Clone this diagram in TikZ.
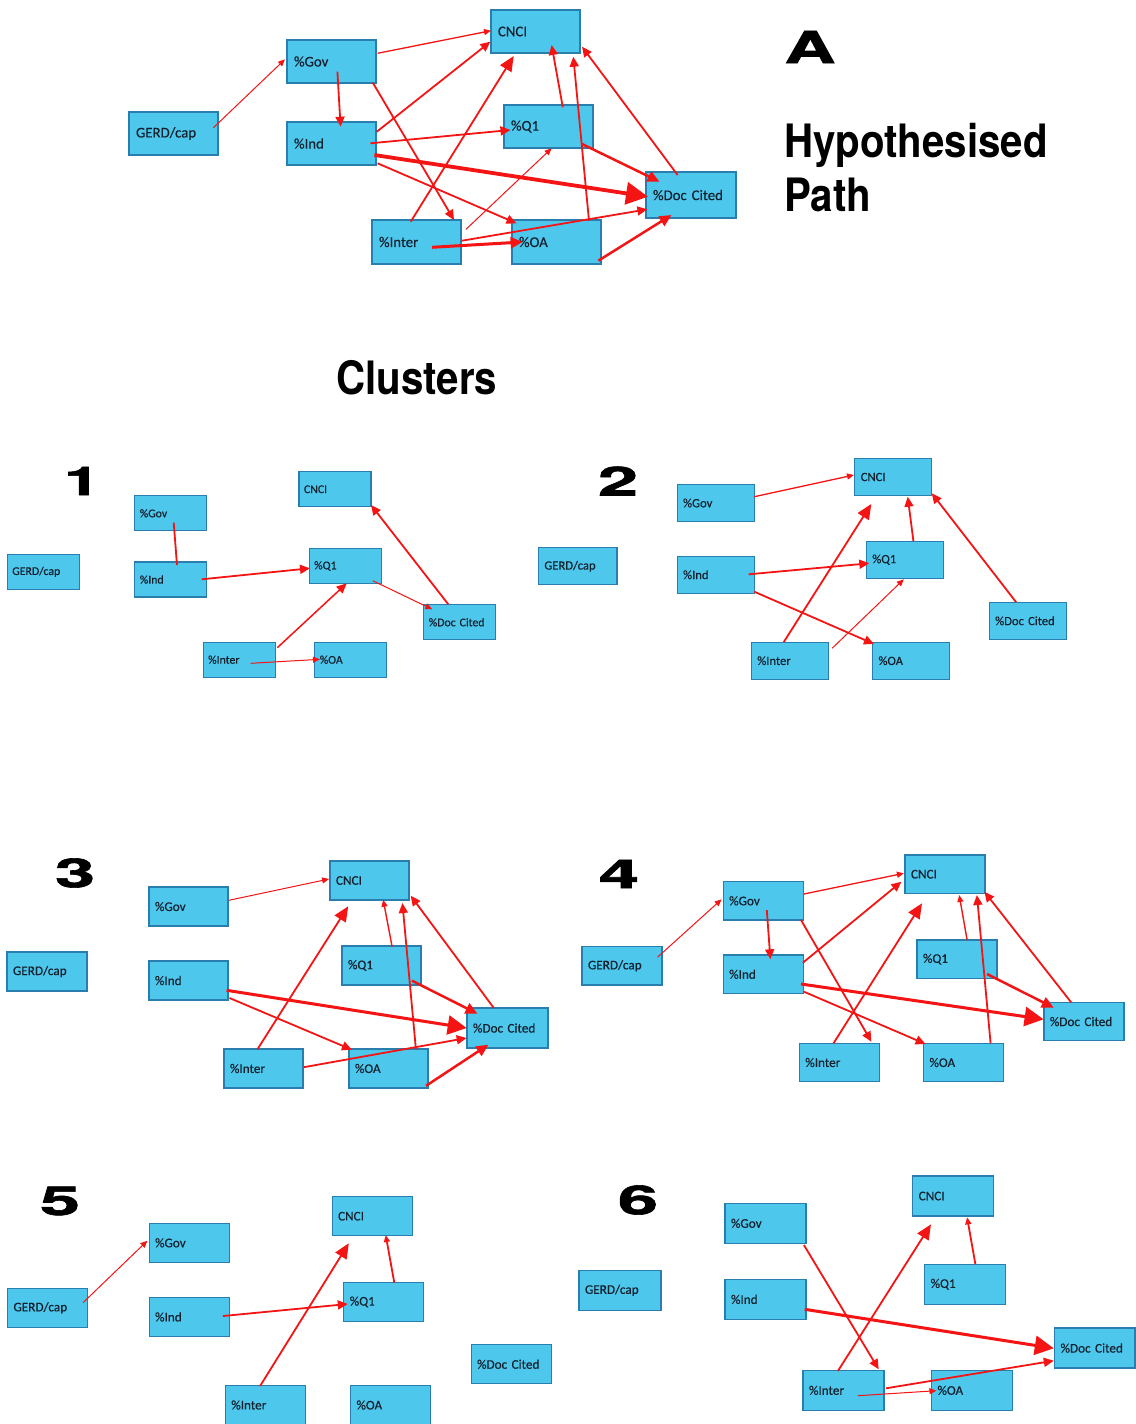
\documentclass[tikz,border=0pt]{standalone}
\usepackage{fontspec}
\usepackage{graphicx}
\setmainfont{Carlito}[FakeBold=0.35]
\newfontfamily\titlefont{TeX Gyre Heros}
\newfontfamily\numfont[FakeBold=1.5]{TeX Gyre Heros}
\usetikzlibrary{arrows.meta,calc}
\definecolor{boxfill}{HTML}{4DC8EC}
\definecolor{boxline}{HTML}{2A7EAE}
\definecolor{arr}{HTML}{F41414}
\definecolor{txt}{HTML}{13202E}
\newcommand\lnk[5]{\draw[#1] ($(#2)+(#3)$) -- ($(#4)+(#5)$);}
\tikzset{
  bx/.style={draw=boxline, fill=boxfill, line width=1.2pt, rectangle, align=left, text=txt, inner ysep=0pt},
  bA/.style={bx, text width=75pt, inner xsep=7pt, minimum height=43pt, font=\fontsize{14.8}{16}\selectfont},
  bOne/.style={bx, text width=62pt, inner xsep=5pt, minimum height=35pt, font=\fontsize{11.8}{13}\selectfont},
  bTwo/.style={bx, text width=65pt, inner xsep=6pt, minimum height=37pt, font=\fontsize{12.6}{14}\selectfont},
  bThree/.style={bx, text width=67pt, inner xsep=6pt, minimum height=39pt, font=\fontsize{13.2}{14}\selectfont},
  bFour/.style={bx, text width=68pt, inner xsep=6pt, minimum height=38.5pt, font=\fontsize{13.2}{14}\selectfont},
  bSix/.style={bx, text width=69pt, inner xsep=6pt, minimum height=40pt, font=\fontsize{13.2}{14}\selectfont},
  edge/.style={draw=arr, line cap=butt},
  eThin/.style={edge, line width=1pt, -{Triangle[length=7pt,width=6pt]}},
  eMid/.style={edge, line width=1.8pt, -{Triangle[length=10pt,width=9pt]}},
  eMidNo/.style={edge, line width=1.8pt},
  eBigHead/.style={edge, line width=1.8pt, -{Triangle[length=15pt,width=13pt]}},
  eHeavy/.style={edge, line width=2.5pt, -{Triangle[length=12pt,width=11pt]}},
  eFat/.style={edge, line width=3.8pt, -{Triangle[length=22pt,width=22pt]}},
  eFatS/.style={edge, line width=3pt, -{Triangle[length=19pt,width=19pt]}},
  numlbl/.style={inner sep=0pt, font=\numfont\bfseries\fontsize{40}{40}\selectfont},
  titlelbl/.style={inner sep=0pt, anchor=base west, font=\titlefont\bfseries\fontsize{46}{50}\selectfont}
}
\begin{document}
\begin{tikzpicture}[x=1pt,y=-1pt]
\useasboundingbox[fill=white] (0,0) rectangle (1135,1424);

% ---------- titles ----------
\node[inner sep=0pt, font=\numfont\bfseries\fontsize{44}{44}\selectfont] (lblA) at (810,47) {\scalebox{1.6}[1]{A}};
\node[titlelbl] (hyp) at (784,157) {\scalebox{0.875}[1]{Hypothesised}};
\node[titlelbl] (pth) at (784,211) {\scalebox{0.875}[1]{Path}};
\node[titlelbl] (clus) at (336,394) {\scalebox{0.875}[1]{Clusters}};
\node[numlbl] (n1) at (82,481) {\scalebox{1.6}[1]{1}};
\node[numlbl] (n2) at (618,481) {\scalebox{1.8}[1]{2}};
\node[numlbl] (n3) at (75,873) {\scalebox{1.8}[1]{3}};
\node[numlbl] (n4) at (619,874) {\scalebox{1.8}[1]{4}};
\node[numlbl] (n5) at (60,1201) {\scalebox{1.8}[1]{5}};
\node[numlbl] (n6) at (638,1200) {\scalebox{1.8}[1]{6}};

% ---------- A: hypothesised path ----------
\node[bA] (aGerd) at (173.5,133.5) {GERD/cap};
\node[bA] (aGov) at (331.5,61.5) {\%Gov};
\node[bA] (aCNCI) at (535.5,31.5) {CNCI};
\node[bA] (aInd) at (331.5,143.5) {\%Ind};
\node[bA] (aQ1) at (548.5,126.5) {\%Q1};
\node[bA, minimum height=46pt, text width=76pt] (aDoc) at (691,195) {\%Doc Cited};
\node[bA, minimum height=44pt] (aInter) at (416.5,242) {\%Inter};
\node[bA, minimum height=44pt] (aOA) at (556.5,242) {\%OA};

\lnk{eThin}{aGerd}{39.9,-5.8}{aGov}{-46.5,-2.2}
\lnk{eThin, line width=1.3pt}{aGov}{46.1,-8.2}{aCNCI}{-44.5,-0.8}
\lnk{eMid}{aGov}{5.9,10.2}{aInd}{9.1,-16.8}
\lnk{eMid}{aGov}{41.3,21.2}{aInter}{37.5,-22}
\lnk{eMid}{aInd}{45.3,-11.8}{aCNCI}{-45.1,10.2}
\lnk{eMid}{aInd}{38.9,-0.2}{aQ1}{-38,3.5}
\lnk{eFat}{aInd}{42.9,11.5}{aDoc}{-43,1.7}
\lnk{eMid}{aInd}{46.1,19.8}{aOA}{-40,-18.7}
\lnk{eBigHead}{aInter}{-5.8,-20.3}{aCNCI}{-21.8,24.5}
\lnk{eThin}{aInter}{49.5,-12.7}{aQ1}{3.1,21.8}
\lnk{eMid}{aInter}{45.5,-1.3}{aDoc}{-43.6,14.3}
\lnk{eHeavy, line width=3pt}{aInter}{15.5,5.3}{aOA}{-33.9,0}
\lnk{eMid}{aOA}{32.5,-21.3}{aCNCI}{37.8,25.2}
\lnk{eHeavy}{aOA}{41.8,18.7}{aDoc}{-19.5,20}
\lnk{eMid}{aQ1}{14.3,-19.2}{aCNCI}{16.1,13.5}
\lnk{eHeavy}{aQ1}{33.5,17.5}{aDoc}{-31.5,-13.3}
\lnk{eMid}{aDoc}{-13.4,-20}{aCNCI}{46.5,15.2}

% ---------- Cluster 1 ----------
\node[bOne] (cOneGerd) at (43.3,571.8) {GERD/cap};
\node[bOne] (cOneGov) at (170.8,513.3) {\%Gov};
\node[bOne] (cOneCNCI) at (335,489.3) {CNCI};
\node[bOne] (cOneInd) at (170.8,579.5) {\%Ind};
\node[bOne] (cOneQ1) at (345.2,566) {\%Q1};
\node[bOne] (cOneDoc) at (459.8,622.2) {\%Doc Cited};
\node[bOne] (cOneInter) at (239.2,659.7) {\%Inter};
\node[bOne] (cOneOA) at (350.8,659.7) {\%OA};

\lnk{eMidNo}{cOneGov}{2.9,9.4}{cOneInd}{6.2,-14.5}
\lnk{eMid}{cOneInd}{30.9,-0.2}{cOneQ1}{-35.2,2.3}
\lnk{eThin}{cOneQ1}{27.5,14.7}{cOneDoc}{-27.5,-12.9}
\lnk{eMid}{cOneDoc}{-11.5,-17.9}{cOneCNCI}{36,15.7}
\lnk{eMid, line width=1.5pt}{cOneInter}{38.1,-12}{cOneQ1}{1.5,17.3}
\lnk{eThin}{cOneInter}{11.5,3.6}{cOneOA}{-30.8,-0.4}

% ---------- Cluster 2 ----------
\node[bTwo, text width=66.6pt] (cTwoGerd) at (577.7,566.2) {GERD/cap};
\node[bTwo] (cTwoGov) at (715.6,503) {\%Gov};
\node[bTwo] (cTwoCNCI) at (893.3,477) {CNCI};
\node[bTwo] (cTwoInd) at (715.6,574.7) {\%Ind};
\node[bTwo] (cTwoQ1) at (904.8,559.7) {\%Q1};
\node[bTwo] (cTwoDoc) at (1027.7,620.8) {\%Doc Cited};
\node[bTwo] (cTwoInter) at (789.8,660.7) {\%Inter};
\node[bTwo] (cTwoOA) at (911,660.7) {\%OA};

\lnk{eThin, line width=1.3pt}{cTwoGov}{38.7,-6.3}{cTwoCNCI}{-39.3,-2}
\lnk{eBigHead}{cTwoInter}{-6,-18.7}{cTwoCNCI}{-22,27}
\lnk{eMid}{cTwoQ1}{8.6,-18.7}{cTwoCNCI}{14.4,19.7}
\lnk{eMid}{cTwoDoc}{-11.5,-18.5}{cTwoCNCI}{38.5,16.3}
\lnk{eMid}{cTwoInd}{33,-0.4}{cTwoQ1}{-35.5,3.6}
\lnk{eMid}{cTwoInd}{38.7,17}{cTwoOA}{-37,-16.7}
\lnk{eThin}{cTwoInter}{42.3,-12.4}{cTwoQ1}{-1,19.6}

% ---------- Cluster 3 ----------
\node[bThree, text width=68pt] (cThreeGerd) at (47,971.5) {GERD/cap};
\node[bThree] (cThreeGov) at (188.5,906.5) {\%Gov};
\node[bThree] (cThreeCNCI) at (369.5,880.5) {CNCI};
\node[bThree] (cThreeInd) at (188.5,980.5) {\%Ind};
\node[bThree] (cThreeQ1) at (381.5,965.5) {\%Q1};
\node[bThree, text width=69pt, minimum height=40pt] (cThreeDoc) at (507.5,1028) {\%Doc Cited};
\node[bThree] (cThreeInter) at (263.5,1068.5) {\%Inter};
\node[bThree] (cThreeOA) at (388.5,1068.5) {\%OA};

\lnk{eThin}{cThreeGov}{40.3,-6.2}{cThreeCNCI}{-40.4,-1.5}
\lnk{eBigHead}{cThreeInter}{-6,-19.3}{cThreeCNCI}{-21.3,25.8}
\lnk{eThin, line width=1.4pt}{cThreeQ1}{10.6,-18.8}{cThreeCNCI}{13.7,19.2}
\lnk{eMid}{cThreeOA}{27.4,-19.3}{cThreeCNCI}{32.9,22.5}
\lnk{eMid}{cThreeDoc}{-13.7,-20}{cThreeCNCI}{41.2,15.2}
\lnk{eFatS}{cThreeInd}{38.1,9.8}{cThreeDoc}{-40.8,0}
\lnk{eMid}{cThreeInd}{41,17.5}{cThreeOA}{-36.5,-18.7}
\lnk{eHeavy}{cThreeQ1}{30.5,15.2}{cThreeDoc}{-30,-14.3}
\lnk{eMid}{cThreeInter}{40.3,-1.3}{cThreeDoc}{-40.8,10}
\lnk{eHeavy}{cThreeOA}{37.5,17.3}{cThreeDoc}{-19.1,16.7}

% ---------- Cluster 4 ----------
\node[bFour] (cFourGerd) at (622,965.8) {GERD/cap};
\node[bFour] (cFourGov) at (763.2,900.8) {\%Gov};
\node[bFour] (cFourCNCI) at (945,874.2) {CNCI};
\node[bFour] (cFourInd) at (763.2,974.2) {\%Ind};
\node[bFour] (cFourQ1) at (957,959.2) {\%Q1};
\node[bFour] (cFourDoc) at (1083.9,1021.5) {\%Doc Cited};
\node[bFour] (cFourInter) at (839.3,1062.5) {\%Inter};
\node[bFour] (cFourOA) at (963.5,1062.5) {\%OA};

\lnk{eThin}{cFourGerd}{35.4,-8.5}{cFourGov}{-41.6,-1.5}
\lnk{eThin, line width=1.3pt}{cFourGov}{40.7,-6.8}{cFourCNCI}{-41.1,-0.9}
\lnk{eMid}{cFourGov}{3.6,9.2}{cFourInd}{7.2,-14.9}
\lnk{eMid}{cFourGov}{37.8,19.2}{cFourInter}{32.1,-20.8}
\lnk{eMid}{cFourInd}{39.7,-11.5}{cFourCNCI}{-43.6,7.5}
\lnk{eFatS}{cFourInd}{37.8,9.8}{cFourDoc}{-40.3,-2.2}
\lnk{eMid}{cFourInd}{40.7,17.5}{cFourOA}{-37.9,-18.5}
\lnk{eBigHead}{cFourInter}{-5.8,-19.2}{cFourCNCI}{-23,29.1}
\lnk{eThin, line width=1.4pt}{cFourQ1}{10.1,-19.2}{cFourCNCI}{14.2,20.8}
\lnk{eMid}{cFourOA}{27.1,-19.2}{cFourCNCI}{31.9,20.8}
\lnk{eMid}{cFourDoc}{-12.8,-19.2}{cFourCNCI}{39.4,17.5}
\lnk{eHeavy}{cFourQ1}{30,14.8}{cFourDoc}{-30.1,-13.8}

% ---------- Cluster 5 ----------
\node[bFour, minimum height=39pt] (cFiveGerd) at (47.5,1307.8) {GERD/cap};
\node[bFour, minimum height=39pt] (cFiveGov) at (189.1,1242.8) {\%Gov};
\node[bFour, minimum height=39pt] (cFiveCNCI) at (372.1,1216.2) {CNCI};
\node[bFour, minimum height=39pt] (cFiveInd) at (189.1,1316.9) {\%Ind};
\node[bFour, minimum height=39pt] (cFiveQ1) at (383.8,1301.9) {\%Q1};
\node[bFour, minimum height=39pt] (cFiveDoc) at (511.1,1364.2) {\%Doc Cited};
\node[bFour, minimum height=39pt] (cFiveInter) at (265.3,1405) {\%Inter};
\node[bFour, minimum height=39pt] (cFiveOA) at (390.5,1405) {\%OA};

\lnk{eThin}{cFiveGerd}{35.5,-5.1}{cFiveGov}{-41.7,-2.1}
\lnk{eMid}{cFiveInd}{33.8,-0.9}{cFiveQ1}{-36,2.1}
\lnk{eBigHead}{cFiveInter}{-5.2,-19}{cFiveCNCI}{-23.3,27.1}
\lnk{eMid, -{Triangle[length=7pt,width=6pt]}}{cFiveQ1}{10.5,-19.2}{cFiveCNCI}{13.6,18.8}

% ---------- Cluster 6 ----------
\node[bSix, text width=70pt] (cSixGerd) at (620,1290.3) {GERD/cap};
\node[bSix] (cSixGov) at (765.5,1223.3) {\%Gov};
\node[bSix] (cSixCNCI) at (953.2,1196) {CNCI};
\node[bSix] (cSixInd) at (765.5,1299.3) {\%Ind};
\node[bSix] (cSixQ1) at (965.1,1284.2) {\%Q1};
\node[bSix, text width=68.5pt] (cSixDoc) at (1094.8,1348) {\%Doc Cited};
\node[bSix] (cSixInter) at (843.5,1390.3) {\%Inter};
\node[bSix] (cSixOA) at (972,1390.3) {\%OA};

\lnk{eMid}{cSixGov}{38.4,21.7}{cSixInter}{35.2,-21}
\lnk{eFatS}{cSixInd}{39.2,10}{cSixDoc}{-41,0.3}
\lnk{eBigHead}{cSixInter}{-5.6,-19.3}{cSixCNCI}{-22.2,28.3}
\lnk{eMid, -{Triangle[length=7pt,width=6pt]}}{cSixQ1}{10.3,-19.9}{cSixCNCI}{13.9,21.3}
\lnk{eMid}{cSixInter}{42.4,-2}{cSixDoc}{-41,12.7}
\lnk{eThin}{cSixInter}{14.2,5.4}{cSixOA}{-35.6,0.4}
\end{tikzpicture}
\end{document}
